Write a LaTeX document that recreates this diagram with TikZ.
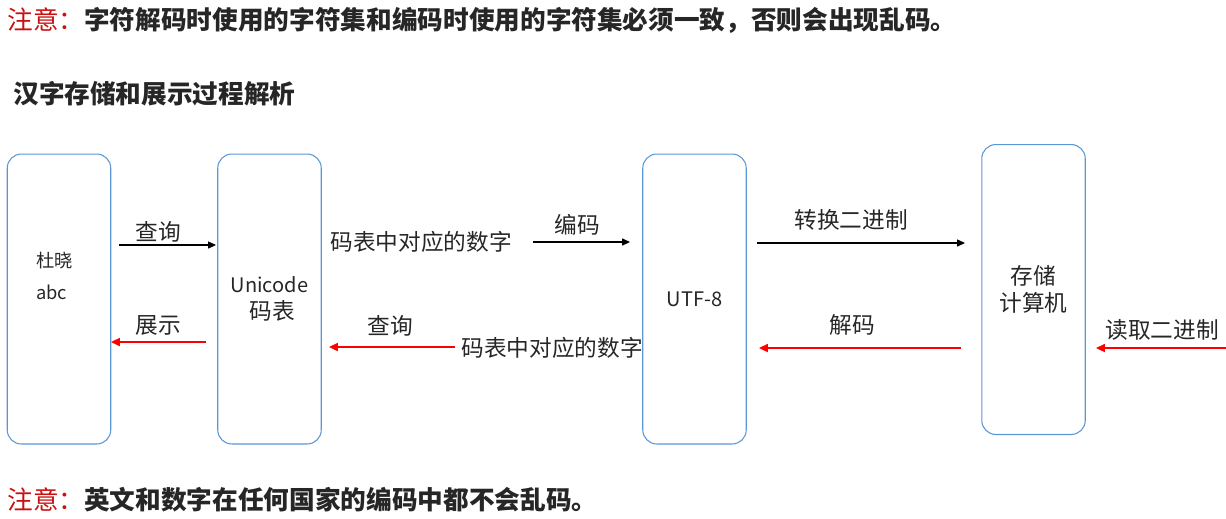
\documentclass[tikz,border=0pt]{standalone}
\usepackage{fontspec}
\setmainfont{Noto Sans CJK SC}
\usetikzlibrary{arrows.meta}
\definecolor{boxblue}{RGB}{91,150,213}
\definecolor{textgray}{RGB}{38,38,38}
\definecolor{notered}{RGB}{200,16,16}
\definecolor{backred}{RGB}{255,0,0}
\tikzset{
  stage/.style={draw=boxblue, line width=0.6pt, rounded corners=8pt,
    minimum width=2.07cm, minimum height=5.8cm, inner sep=0pt, align=center},
  lbl/.style={text=textgray, inner sep=0pt, font=\fontsize{12.9}{15.4}\selectfont},
  small/.style={text=textgray, inner sep=0pt, font=\fontsize{10.4}{18.2}\selectfont},
  headline/.style={anchor=west, inner sep=0pt, font=\fontsize{14.6}{17}\selectfont},
  fwd/.style={-{Triangle[length=4.5pt,width=4pt]}, line width=0.6pt, black},
  back/.style={-{Triangle[length=5pt,width=4.5pt]}, line width=1.1pt, backred}
}
\begin{document}
\begin{tikzpicture}[x=0.02cm, y=-0.02cm]
\useasboundingbox (0,0) rectangle (1226,518);

% notes
\node[headline] (note1) at (7,20) {\textcolor{notered}{注意：}\textcolor{textgray}{\bfseries 字符解码时使用的字符集和编码时使用的字符集必须一致，否则会出现乱码。}};
\node[headline] (title) at (13,94) {\textcolor{textgray}{\bfseries 汉字存储和展示过程解析}};
\node[headline] (note2) at (7,500) {\textcolor{notered}{注意：}\textcolor{textgray}{\bfseries 英文和数字在任何国家的编码中都不会乱码。}};

% boxes
\node[stage] (chars) at (59,299) {};
\node[small, align=left, anchor=west] (charstext) at (36,276) {杜晓\\abc};
\node[stage, lbl, draw=boxblue, inner sep=0pt] (unicode) at (269.5,299) {{\fontsize{11.4}{15.4}\selectfont Unicode}\\\ 码表};
\node[stage, text=textgray, font=\fontsize{11.4}{14}\selectfont] (utf) at (694.5,299) {UTF-8};
\node[stage, lbl, draw=boxblue, inner sep=0pt] (disk) at (1033.5,289.5) {存储\\计算机};

% texts between boxes
\node[lbl] (num1) at (421,242) {码表中对应的数字};
\node[lbl] (num2) at (552,348) {码表中对应的数字};

% arrow ends
\coordinate (askA) at (119,245);  \coordinate (askB) at (216,245);
\coordinate (showA) at (206,342); \coordinate (showB) at (111,342);
\coordinate (encA) at (533,242);  \coordinate (encB) at (630,242);
\coordinate (lookA) at (455,347); \coordinate (lookB) at (329,347);
\coordinate (binA) at (757,243);  \coordinate (binB) at (965,243);
\coordinate (decA) at (961,348);  \coordinate (decB) at (759,348);
\coordinate (readA) at (1226,348); \coordinate (readB) at (1096,348);

\draw[fwd] (askA) -- (askB);
\draw[back] (showA) -- (showB);
\draw[fwd] (encA) -- (encB);
\draw[back] (lookA) -- (lookB);
\draw[fwd] (binA) -- (binB);
\draw[back] (decA) -- (decB);
\draw[back] (readA) -- (readB);

% arrow labels
\node[lbl] (ask) at (158,232) {查询};
\node[lbl] (show) at (158,325) {展示};
\node[lbl] (enc) at (577,225) {编码};
\node[lbl] (look) at (390,326) {查询};
\node[lbl] (bin) at (851,220) {转换二进制};
\node[lbl] (dec) at (852,325) {解码};
\node[lbl] (read) at (1162,330) {读取二进制};
\end{tikzpicture}
\end{document}
